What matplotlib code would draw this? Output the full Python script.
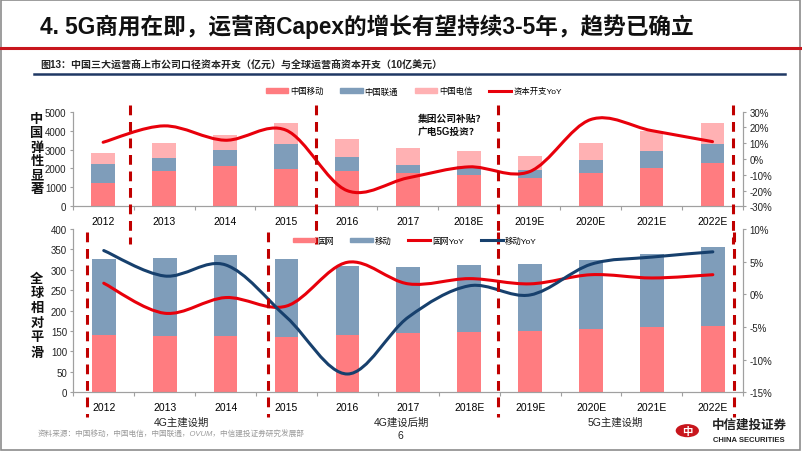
import matplotlib
matplotlib.use('Agg')
import matplotlib.pyplot as plt
import matplotlib.transforms as mtransforms
from matplotlib.path import Path
from matplotlib.patches import PathPatch, Patch, Circle
from matplotlib.lines import Line2D
import numpy as np

plt.rcParams['font.family'] = ['Liberation Sans', 'Noto Sans CJK SC']

years = ['2012', '2013', '2014', '2015', '2016', '2017', '2018E', '2019E', '2020E', '2021E', '2022E']

# 中国三大运营商上市公司口径资本开支（亿元）
cmcc = [1250, 1870, 2150, 1960, 1870, 1780, 1660, 1500, 1780, 2030, 2300]
cucc = [990, 690, 830, 1340, 720, 420, 490, 420, 650, 880, 980]
ctcc = [560, 800, 790, 1090, 990, 880, 760, 740, 930, 1070, 1130]
capex_yoy = [10.6, 21.0, 11.9, 18.3, -20.0, -12.0, -5.0, -8.0, 25.0, 18.0, 11.0]

# 全球运营商资本开支（10亿美元）
fixed = [141, 139, 137, 136, 141, 145, 148, 150, 154, 159, 163]
mobile = [186, 189, 199, 191, 169, 161, 163, 164, 170, 179, 192]
fixed_yoy = [1.7, -2.9, -0.5, -1.8, 4.9, 1.6, 2.4, 1.6, 3.0, 2.5, 3.0]
mobile_yoy = [6.7, 2.8, 4.5, -3.5, -12.2, -3.5, 1.3, -0.1, 4.6, 5.7, 6.5]

phases = ['4G主建设期', '4G建设后期', '5G主建设期']

C_CM = '#FF7C80'
C_CU = '#7F9DBA'
C_CT = '#FFB1B3'
C_RED = '#E8000B'
C_NAVY = '#17406D'
C_DASH = '#C00000'


def smooth_line(ax, xs, ys, color, lw=2.2):
    """Excel 风格的平滑折线（贝塞尔曲线）"""
    pts = np.column_stack([xs, ys]).astype(float)
    n = len(pts)
    verts = [pts[0]]
    codes = [Path.MOVETO]
    for i in range(n - 1):
        p0 = pts[i - 1] if i > 0 else pts[i]
        p1 = pts[i]
        p2 = pts[i + 1]
        p3 = pts[i + 2] if i + 2 < n else pts[i + 1]
        c1 = p1 + (p2 - p0) / 6.0
        c2 = p2 - (p3 - p1) / 6.0
        verts += [c1, c2, p2]
        codes += [Path.CURVE4] * 3
    patch = PathPatch(Path(verts, codes), facecolor='none', edgecolor=color,
                      lw=lw, capstyle='round', joinstyle='round', zorder=5)
    ax.add_patch(patch)


def style_axes(ax, ax2):
    for a in (ax, ax2):
        a.spines['top'].set_visible(False)
        for s in ('left', 'right', 'bottom'):
            a.spines[s].set_color('#A0A0A0')
            a.spines[s].set_linewidth(0.8)
        a.tick_params(axis='y', length=2.5, width=0.8, color='#A0A0A0',
                      labelsize=7, labelcolor='#222222', pad=2)
    ax.set_xlim(-0.5, len(years) - 0.5)
    ax.set_xticks(range(len(years)))
    ax.set_xticklabels(years)
    ax.set_xticks(np.arange(-0.5, len(years), 1.0), minor=True)
    ax.tick_params(axis='x', which='major', length=0, labelsize=7.5, pad=7)
    ax.tick_params(axis='x', which='minor', length=3, width=0.8, color='#A0A0A0')


fig = plt.figure(figsize=(8.02, 4.52), dpi=100)

# 外框
fig.patches.append(plt.Rectangle((0.001, 0.003), 0.997, 0.995, transform=fig.transFigure,
                                 fill=False, edgecolor='#8C8C8C', lw=1.2))

# 标题
fig.text(0.05, 0.94, '4. 5G商用在即，运营商Capex的增长有望持续3-5年，趋势已确立',
         fontsize=16.3, fontweight='bold', va='center', ha='left', color='#111111')
fig.add_artist(Line2D([0.0, 1.0], [0.892, 0.892], color='#C8161D', lw=2.2,
                      transform=fig.transFigure))
fig.text(0.05, 0.856, '图13：中国三大运营商上市公司口径资本开支（亿元）与全球运营商资本开支（10亿美元）',
         fontsize=7.2, fontweight='bold', va='center', ha='left', color='#222222')
fig.add_artist(Line2D([0.043, 0.979], [0.835, 0.835], color='#1F3864', lw=1.8,
                      transform=fig.transFigure))

x = np.arange(len(years))
bw = 0.39

# ---------------- 上图：中国三大运营商 ----------------
ax1 = fig.add_axes([0.0906, 0.5414, 0.8358, 0.2093])
ax1r = ax1.twinx()
ax1.bar(x, cmcc, bw, color=C_CM, zorder=2)
ax1.bar(x, cucc, bw, bottom=cmcc, color=C_CU, zorder=2)
ax1.bar(x, ctcc, bw, bottom=np.add(cmcc, cucc), color=C_CT, zorder=2)
ax1.set_ylim(0, 5000)
ax1.set_yticks(range(0, 5001, 1000))
ax1r.set_ylim(-30, 30)
ax1r.set_yticks(range(-30, 31, 10))
ax1r.set_yticklabels([f'{v}%' for v in range(-30, 31, 10)])
smooth_line(ax1r, x, capex_yoy, C_RED)
style_axes(ax1, ax1r)

h1 = [Patch(color=C_CM), Patch(color=C_CU), Patch(color=C_CT), Line2D([], [], color=C_RED, lw=2.2)]
fig.legend(h1, ['中国移动', '中国联通', '中国电信', '资本开支YoY'], loc='center',
           bbox_to_anchor=(0.516, 0.796), ncol=4, frameon=False, fontsize=6,
           handlelength=2.7, handleheight=0.45, handletextpad=0.2, columnspacing=2.0)

ax1.text(0.515, 0.99, '集团公司补贴？\n广电5G投资？', transform=ax1.transAxes,
         fontsize=7, fontweight='bold', va='top', ha='left', linespacing=1.45, color='#111111')

fig.text(0.046, 0.657, '\n'.join('中国弹性显著'), fontsize=9.5, fontweight='bold',
         ha='center', va='center', linespacing=1.22, color='#111111')

# ---------------- 下图：全球运营商 ----------------
ax2 = fig.add_axes([0.0914, 0.1299, 0.8354, 0.3613])
ax2r = ax2.twinx()
ax2.bar(x, fixed, bw, color=C_CM, zorder=2)
ax2.bar(x, mobile, bw, bottom=fixed, color=C_CU, zorder=2)
ax2.set_ylim(0, 400)
ax2.set_yticks(range(0, 401, 50))
ax2r.set_ylim(-15, 10)
ax2r.set_yticks(range(-15, 11, 5))
ax2r.set_yticklabels([f'{v}%' for v in range(-15, 11, 5)])
smooth_line(ax2r, x, fixed_yoy, C_RED)
smooth_line(ax2r, x, mobile_yoy, C_NAVY)
style_axes(ax2, ax2r)

h2 = [Patch(color=C_CM), Patch(color=C_CU), Line2D([], [], color=C_RED, lw=2.2),
      Line2D([], [], color=C_NAVY, lw=2.2)]
fig.legend(h2, ['固网', '移动', '固网YoY', '移动YoY'], loc='center',
           bbox_to_anchor=(0.517, 0.465), ncol=4, frameon=False, fontsize=6,
           handlelength=2.7, handleheight=0.45, handletextpad=0.2, columnspacing=2.0)

fig.text(0.046, 0.30, '\n'.join('全球相对平滑'), fontsize=9.5, fontweight='bold',
         ha='center', va='center', linespacing=1.3, color='#111111')

# 阶段分割虚线
tr1 = mtransforms.blended_transform_factory(ax1.transData, fig.transFigure)
for xv in [0.44, 3.5, 6.48, 10.34]:
    fig.add_artist(Line2D([xv, xv], [0.765, 0.458], transform=tr1, color=C_DASH,
                          lw=2.2, ls=(0, (3.2, 2.2))))
tr2 = mtransforms.blended_transform_factory(ax2.transData, fig.transFigure)
for xv in [-0.28, 2.7, 6.48, 10.34]:
    fig.add_artist(Line2D([xv, xv], [0.485, 0.075], transform=tr2, color=C_DASH,
                          lw=2.2, ls=(0, (3.2, 2.2))))

for xv, lab in zip([1.28, 4.89, 8.4], phases):
    fig.text(xv, 0.066, lab, transform=tr2, fontsize=7.5, ha='center', va='center',
             color='#222222')

# 页脚
fig.text(0.047, 0.038, '资料来源：中国移动，中国电信，中国联通，OVUM，中信建投证券研究发展部',
         fontsize=5.5, style='italic', color='#9A9A9A', va='center', ha='left')
fig.text(0.499, 0.036, '6', fontsize=7.5, ha='center', va='center', color='#222222')

# 标志
fig.add_artist(Circle((0.857, 0.045), 0.0145, transform=fig.transFigure,
                      facecolor='#C8161D', edgecolor='none'))
fig.text(0.857, 0.045, '中', fontsize=7.5, fontweight='bold', color='white',
         ha='center', va='center')
fig.text(0.934, 0.058, '中信建投证券', fontsize=9, fontweight='bold', color='#222222',
         ha='center', va='center')
fig.text(0.934, 0.025, 'CHINA SECURITIES', fontsize=5.5, fontweight='bold', color='#222222',
         ha='center', va='center')

fig.savefig('out.png', dpi=100)
